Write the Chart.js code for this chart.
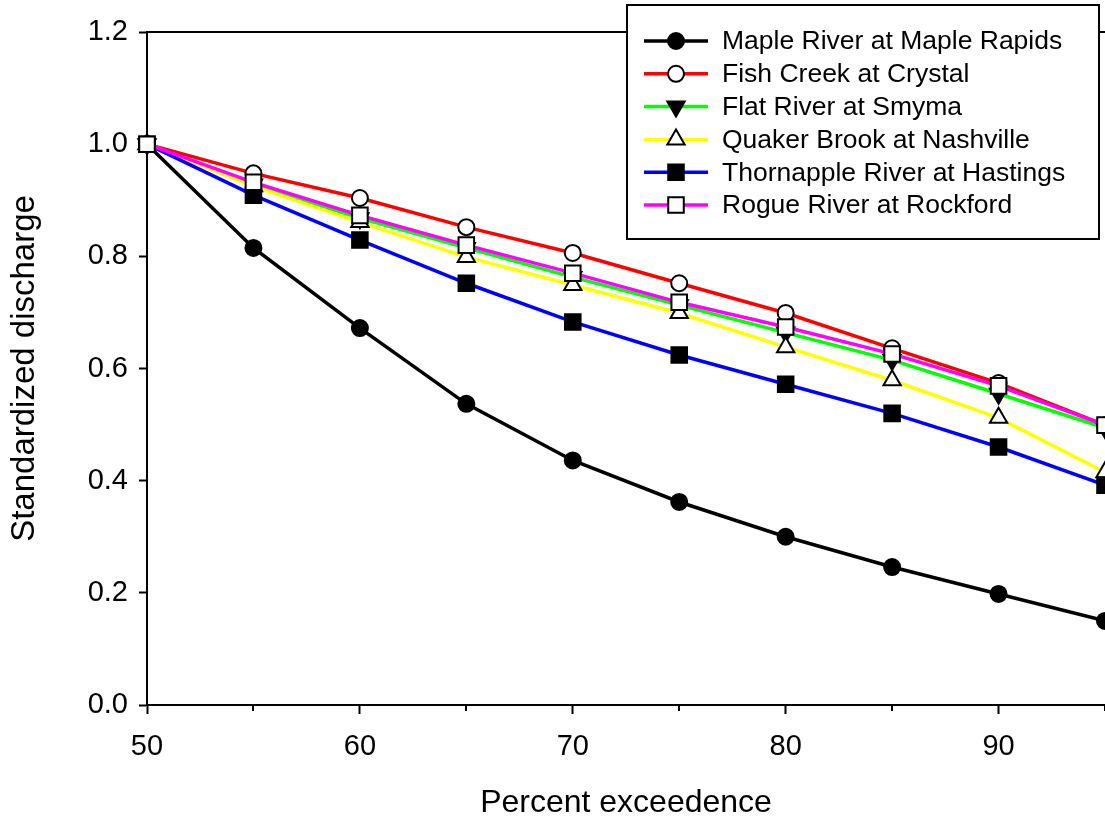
<!DOCTYPE html>
<html>
<head>
<meta charset="utf-8">
<title>Standardized discharge</title>
<script src="https://cdn.jsdelivr.net/npm/chart.js@4.4.1/dist/chart.umd.min.js"></script>
<style>
  html, body { margin: 0; padding: 0; background: #fff; }
  #wrap { width: 1105px; height: 824px; }
</style>
</head>
<body>
<div id="wrap"><canvas id="chart" width="1105" height="824"></canvas></div>
<script>
// data
const percentExceedence = [50, 55, 60, 65, 70, 75, 80, 85, 90, 95];
const mapleRiver  = [1.0, 0.815, 0.672, 0.537, 0.436, 0.362, 0.300, 0.246, 0.198, 0.150];
const fishCreek   = [1.0, 0.948, 0.904, 0.852, 0.806, 0.752, 0.699, 0.636, 0.574, 0.499];
const flatRiver   = [1.0, 0.928, 0.868, 0.815, 0.763, 0.713, 0.664, 0.615, 0.555, 0.494];
const quakerBrook = [1.0, 0.925, 0.861, 0.799, 0.749, 0.699, 0.638, 0.579, 0.512, 0.415];
const thornapple  = [1.0, 0.909, 0.829, 0.752, 0.683, 0.624, 0.572, 0.520, 0.460, 0.392];
const rogueRiver  = [1.0, 0.932, 0.873, 0.820, 0.770, 0.718, 0.674, 0.626, 0.569, 0.499];
const majorTicks = [50, 60, 70, 80, 90];
const minorTicks = [55, 65, 75, 85, 95];

const FONT = '"Liberation Sans", Arial, sans-serif';

function pts(values) {
    return percentExceedence.map((x, i) => ({ x: x, y: values[i] }));
}

// name, values, line colour, marker style, rotation, marker fill, radius
const series = [
    ['Maple River at Maple Rapids', mapleRiver, '#000000', 'circle', 0, '#000000', 8],
    ['Fish Creek at Crystal', fishCreek, '#ff0000', 'circle', 0, '#ffffff', 8],
    ['Flat River at Smyma', flatRiver, '#00ff00', 'triangle', 180, '#000000', 10],
    ['Quaker Brook at Nashville', quakerBrook, '#ffff00', 'triangle', 0, '#ffffff', 10],
    ['Thornapple River at Hastings', thornapple, '#0000ff', 'rect', 0, '#000000', 11],
    ['Rogue River at Rockford', rogueRiver, '#ff00ff', 'rect', 0, '#ffffff', 11],
];

const datasets = series.map((s, i) => ({
    label: s[0],
    data: pts(s[1]),
    borderColor: s[2],
    borderWidth: 3.5,
    pointStyle: s[3],
    rotation: s[4],
    pointBackgroundColor: s[5],
    pointBorderColor: '#000000',
    pointBorderWidth: 2,
    pointRadius: s[6],
    pointHoverRadius: s[6],
    tension: 0,
    clip: false,
    order: series.length - i, // last series on top, like the original
}));

// top frame line and short minor ticks on the x axis
const framePlugin = {
    id: 'frame',
    afterDraw(chart) {
        const { ctx, chartArea } = chart;
        const x = chart.scales.x;
        ctx.save();
        ctx.strokeStyle = '#000';
        ctx.lineWidth = 2;
        ctx.beginPath();
        ctx.moveTo(chartArea.left - 1, chartArea.top);
        ctx.lineTo(chartArea.right, chartArea.top);
        minorTicks.forEach(v => {
            const px = Math.round(x.getPixelForValue(v));
            ctx.moveTo(px, chartArea.bottom);
            ctx.lineTo(px, chartArea.bottom + 6);
        });
        ctx.stroke();
        ctx.restore();
    }
};

// boxed legend with line + marker samples
const legendPlugin = {
    id: 'boxLegend',
    afterDraw(chart) {
        const { ctx, chartArea } = chart;
        const boxRight = chartArea.right - 6;
        const boxLeft = boxRight - 472;
        const boxTop = 5;
        const boxH = 234;
        ctx.save();
        ctx.fillStyle = '#fff';
        ctx.fillRect(boxLeft, boxTop, boxRight - boxLeft, boxH);
        ctx.strokeStyle = '#000';
        ctx.lineWidth = 2;
        ctx.strokeRect(boxLeft, boxTop, boxRight - boxLeft, boxH);

        ctx.font = '26.5px ' + FONT;
        ctx.textBaseline = 'middle';
        ctx.textAlign = 'left';
        chart.data.datasets.forEach((ds, i) => {
            const y = 41 + i * 32.8;
            ctx.strokeStyle = ds.borderColor;
            ctx.lineWidth = 3.5;
            ctx.beginPath();
            ctx.moveTo(boxLeft + 17, y);
            ctx.lineTo(boxLeft + 81, y);
            ctx.stroke();
            ctx.fillStyle = ds.pointBackgroundColor;
            ctx.strokeStyle = '#000';
            ctx.lineWidth = ds.pointBorderWidth;
            Chart.helpers.drawPoint(ctx, {
                pointStyle: ds.pointStyle,
                rotation: ds.rotation,
                radius: ds.pointRadius,
                borderWidth: ds.pointBorderWidth
            }, boxLeft + 49, y);
            ctx.fillStyle = '#000';
            ctx.fillText(ds.label, boxLeft + 95, y + 1);
        });
        ctx.restore();
    }
};

new Chart(document.getElementById('chart'), {
    type: 'line',
    data: { datasets: datasets },
    options: {
        responsive: false,
        animation: false,
        devicePixelRatio: 1,
        layout: { autoPadding: false, padding: { top: 32, right: 0, left: 0, bottom: 0 } },
        plugins: { legend: { display: false }, tooltip: { enabled: false } },
        scales: {
            x: {
                type: 'linear',
                min: 50,
                max: 95,
                afterBuildTicks(scale) {
                    scale.ticks = majorTicks.map(v => ({ value: v }));
                },
                afterFit(scale) {
                    scale.height = 119;
                    scale.paddingRight = 0;
                    scale.paddingLeft = 0;
                },
                ticks: {
                    color: '#000',
                    padding: 16,
                    font: { family: FONT, size: 29 },
                    maxRotation: 0,
                    autoSkip: false
                },
                grid: { drawOnChartArea: false, drawTicks: true, tickLength: 9, tickWidth: 2, tickColor: '#000' },
                border: { display: true, color: '#000', width: 2 },
                title: {
                    display: true,
                    text: 'Percent exceedence',
                    color: '#000',
                    font: { family: FONT, size: 32 },
                    padding: { top: 0, bottom: 2 }
                }
            },
            y: {
                min: 0,
                max: 1.2,
                afterFit(scale) { scale.width = 147; },
                ticks: {
                    stepSize: 0.2,
                    color: '#000',
                    padding: 11,
                    font: { family: FONT, size: 29 },
                    callback: v => v.toFixed(1)
                },
                grid: { drawOnChartArea: false, drawTicks: true, tickLength: 8, tickWidth: 2, tickColor: '#000' },
                border: { display: true, color: '#000', width: 2 },
                title: {
                    display: true,
                    text: 'Standardized discharge',
                    color: '#000',
                    font: { family: FONT, size: 33 },
                    padding: { top: 5, bottom: 0 }
                }
            }
        }
    },
    plugins: [framePlugin, legendPlugin]
});
</script>
</body>
</html>
